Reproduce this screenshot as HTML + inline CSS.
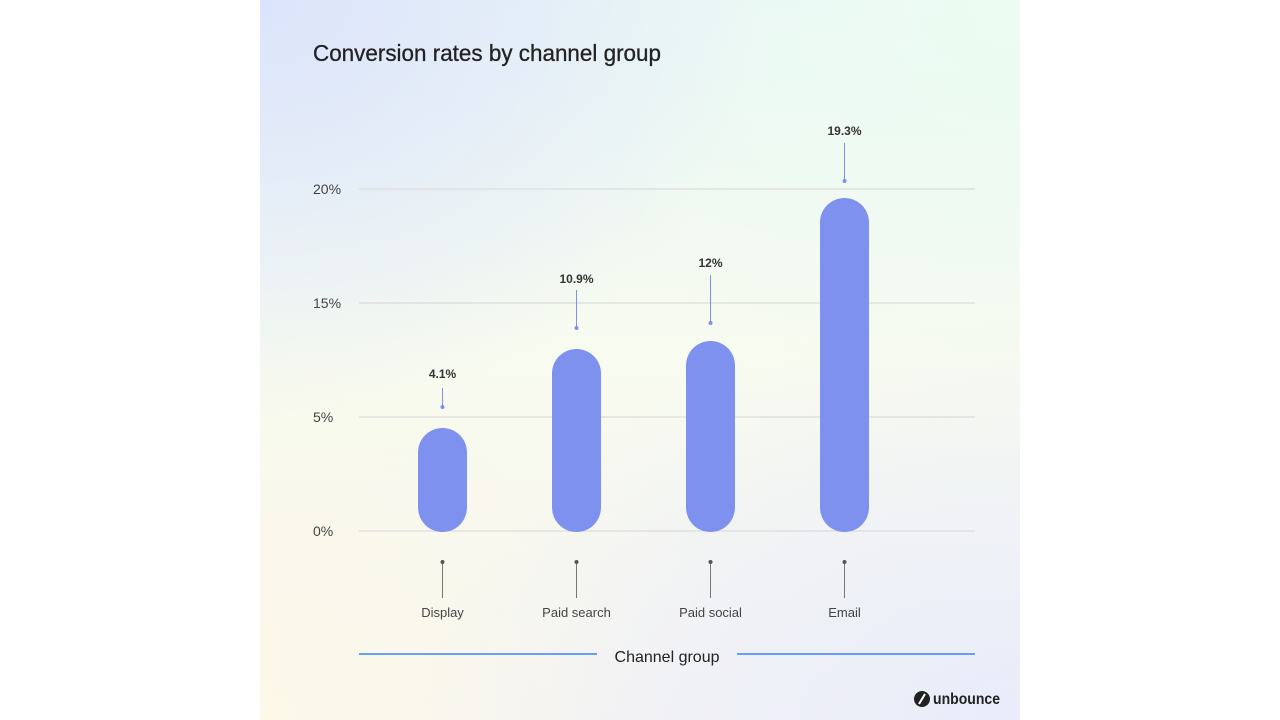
<!DOCTYPE html>
<html><head><meta charset="utf-8"><style>
html,body{margin:0;padding:0;background:#fff;}
body{width:1280px;height:720px;position:relative;overflow:hidden;font-family:"Liberation Sans",sans-serif;}
#panel{position:absolute;left:260px;top:0;width:760px;height:720px;
background:
radial-gradient(ellipse 500px 420px at 0% 0%, #dce4fb 0%, rgba(220,228,251,0) 100%),
radial-gradient(ellipse 500px 400px at 100% 0%, #ecfcf2 0%, rgba(236,252,242,0) 100%),
radial-gradient(ellipse 600px 400px at 100% 100%, #e9ecfa 0%, rgba(233,236,250,0) 100%),
radial-gradient(ellipse 500px 400px at 0% 100%, #fcf9e8 0%, rgba(252,249,232,0) 100%),
linear-gradient(180deg,#eaf6f6 0%,#f8fbef 50%,#f5f4f4 100%);}
</style></head><body>
<div id="panel"></div>
<svg width="1280" height="720" style="position:absolute;left:0;top:0" font-family="Liberation Sans, sans-serif">
<text x="313" y="61" font-size="23" fill="#222" stroke="#222" stroke-width="0.3" textLength="348" lengthAdjust="spacingAndGlyphs">Conversion rates by channel group</text>
<g stroke="#dcdcdc" stroke-width="1.2">
<line x1="359" y1="189" x2="975" y2="189"/><line x1="359" y1="303" x2="975" y2="303"/>
<line x1="359" y1="417" x2="975" y2="417"/><line x1="359" y1="531" x2="975" y2="531"/>
</g>
<g font-size="14" fill="#444">
<text x="313" y="194">20%</text><text x="313" y="308">15%</text>
<text x="313" y="422">5%</text><text x="313" y="536">0%</text>
</g>
<g fill="#7e91ee">
<rect x="418" y="428" width="49" height="104" rx="24.5"/>
<rect x="552" y="349" width="49" height="183" rx="24.5"/>
<rect x="686" y="341" width="49" height="191" rx="24.5"/>
<rect x="820" y="198" width="49" height="334" rx="24.5"/>
</g>
<g stroke="#7e91ee" stroke-width="1">
<line x1="442.5" y1="388" x2="442.5" y2="407"/><line x1="576.5" y1="290" x2="576.5" y2="328"/>
<line x1="710.5" y1="275" x2="710.5" y2="323"/><line x1="844.5" y1="143" x2="844.5" y2="181"/>
</g>
<g fill="#7e91ee">
<circle cx="442.5" cy="407" r="2"/><circle cx="576.5" cy="328" r="2"/>
<circle cx="710.5" cy="323" r="2"/><circle cx="844.5" cy="181" r="2"/>
</g>
<g font-size="12" font-weight="bold" fill="#333" text-anchor="middle">
<text x="442.5" y="378">4.1%</text><text x="576.5" y="283">10.9%</text>
<text x="710.5" y="267">12%</text><text x="844.5" y="135">19.3%</text>
</g>
<g stroke="#777" stroke-width="1">
<line x1="442.5" y1="562" x2="442.5" y2="598"/><line x1="576.5" y1="562" x2="576.5" y2="598"/>
<line x1="710.5" y1="562" x2="710.5" y2="598"/><line x1="844.5" y1="562" x2="844.5" y2="598"/>
</g>
<g fill="#555">
<circle cx="442.5" cy="562" r="2"/><circle cx="576.5" cy="562" r="2"/>
<circle cx="710.5" cy="562" r="2"/><circle cx="844.5" cy="562" r="2"/>
</g>
<g font-size="13" fill="#444" text-anchor="middle">
<text x="442.5" y="617">Display</text><text x="576.5" y="617">Paid search</text>
<text x="710.5" y="617">Paid social</text><text x="844.5" y="617">Email</text>
</g>
<g stroke="#3b82f6" stroke-width="1.5">
<line x1="359" y1="654" x2="597" y2="654"/><line x1="737" y1="654" x2="975" y2="654"/>
</g>
<text x="667" y="662" font-size="16" fill="#222" text-anchor="middle">Channel group</text>
<circle cx="922" cy="699" r="8" fill="#222"/>
<line x1="919" y1="704" x2="925" y2="694" stroke="#fff" stroke-width="2"/>
<text x="933" y="704" font-size="16" font-weight="bold" fill="#222" textLength="67" lengthAdjust="spacingAndGlyphs">unbounce</text>
</svg>
</body></html>
